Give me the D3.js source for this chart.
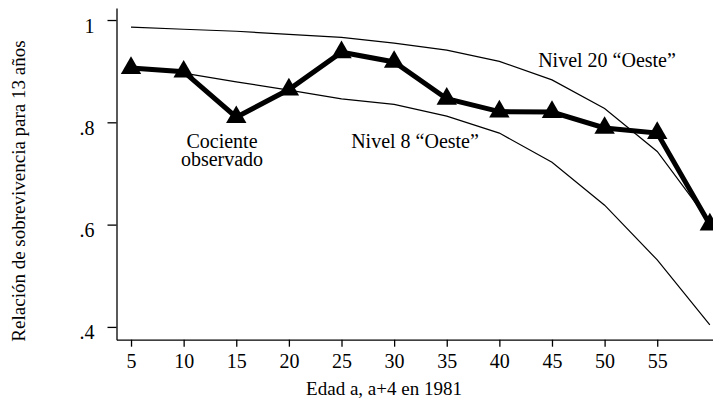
<!DOCTYPE html>
<html>
<head>
<meta charset="utf-8">
<script src="https://cdn.jsdelivr.net/npm/d3@7"></script>
<style>
  body { margin: 0; background: #fff; }
  svg { display: block; font-family: "Liberation Serif", "Times New Roman", serif; }
  .axis path, .axis line { stroke: #000; stroke-width: 1.3; }
  .axis text { font-size: 20px; fill: #000; }
</style>
</head>
<body>
<svg id="chart" width="713" height="402"></svg>
<script>
// edades (inicio del grupo a, a+4)
var ages = [5, 10, 15, 20, 25, 30, 35, 40, 45, 50, 55, 60];
var xTicks = [5, 10, 15, 20, 25, 30, 35, 40, 45, 50, 55];
var yTicks = [0.4, 0.6, 0.8, 1];

// cociente observado
var observed = [0.906, 0.899, 0.810, 0.864, 0.937, 0.918, 0.846, 0.821, 0.820, 0.789, 0.779, 0.600];
// tablas modelo "Oeste"
var west20 = [0.986, 0.982, 0.978, 0.972, 0.966, 0.955, 0.941, 0.919, 0.883, 0.827, 0.743, 0.605];
var west8 = [0.908, 0.896, 0.879, 0.863, 0.846, 0.835, 0.812, 0.779, 0.722, 0.638, 0.531, 0.404];

var svg = d3.select('#chart');

var x = d3.scaleLinear().domain([3.62, 60.3]).range([116.5, 713]);
var y = d3.scaleLinear().domain([0.375, 1.0235]).range([339.7, 8]);

var fmt = function (d) { return d === 1 ? '1' : d3.format('.1f')(d).replace(/^0/, ''); };

// ejes
var gy = svg.append('g').attr('class', 'axis')
    .attr('transform', 'translate(116.5,0)')
    .call(d3.axisLeft(y).tickValues(yTicks).tickFormat(fmt).tickSize(9).tickSizeOuter(0))
    .attr('font-family', null).attr('font-size', null);
gy.selectAll('text').attr('x', -22).attr('dy', '0.6em');

var gx = svg.append('g').attr('class', 'axis')
    .attr('transform', 'translate(0,339.7)')
    .call(d3.axisBottom(x).tickValues(xTicks).tickSize(7).tickSizeOuter(0))
    .attr('font-family', null).attr('font-size', null);
gx.selectAll('text').attr('y', 14).attr('dy', '0.71em');

svg.append('text')
    .attr('x', 384).attr('y', 395)
    .attr('text-anchor', 'middle')
    .attr('font-size', 19)
    .text('Edad a, a+4 en 1981');

svg.append('text')
    .attr('transform', 'translate(25,191) rotate(-90)')
    .attr('text-anchor', 'middle')
    .attr('font-size', 19)
    .text('Relación de sobrevivencia para 13 años');

var line = d3.line()
    .x(function (d, i) { return x(ages[i]); })
    .y(function (d) { return y(d); });

svg.append('path').datum(west20)
    .attr('d', line).attr('fill', 'none').attr('stroke', '#000').attr('stroke-width', 1.2);
svg.append('path').datum(west8)
    .attr('d', line).attr('fill', 'none').attr('stroke', '#000').attr('stroke-width', 1.2);

svg.append('path').datum(observed)
    .attr('d', line).attr('fill', 'none').attr('stroke', '#000')
    .attr('stroke-width', 5).attr('stroke-linejoin', 'miter');

svg.selectAll('.tri').data(observed).enter().append('path')
    .attr('class', 'tri')
    .attr('transform', function (d, i) { return 'translate(' + x(ages[i]) + ',' + y(d) + ')'; })
    .attr('d', d3.symbol(d3.symbolTriangle, 180))
    .attr('fill', '#000');

// rótulos
var labels = [
    {t: ['Cociente', 'observado'], x: 222, y: 148},
    {t: ['Nivel 8 “Oeste”'], x: 415, y: 148},
    {t: ['Nivel 20 “Oeste”'], x: 607, y: 67}
];
labels.forEach(function (l) {
    l.t.forEach(function (s, i) {
        svg.append('text')
            .attr('x', l.x).attr('y', l.y + i * 18)
            .attr('text-anchor', 'middle')
            .attr('font-size', 20)
            .text(s);
    });
});
</script>
</body>
</html>
